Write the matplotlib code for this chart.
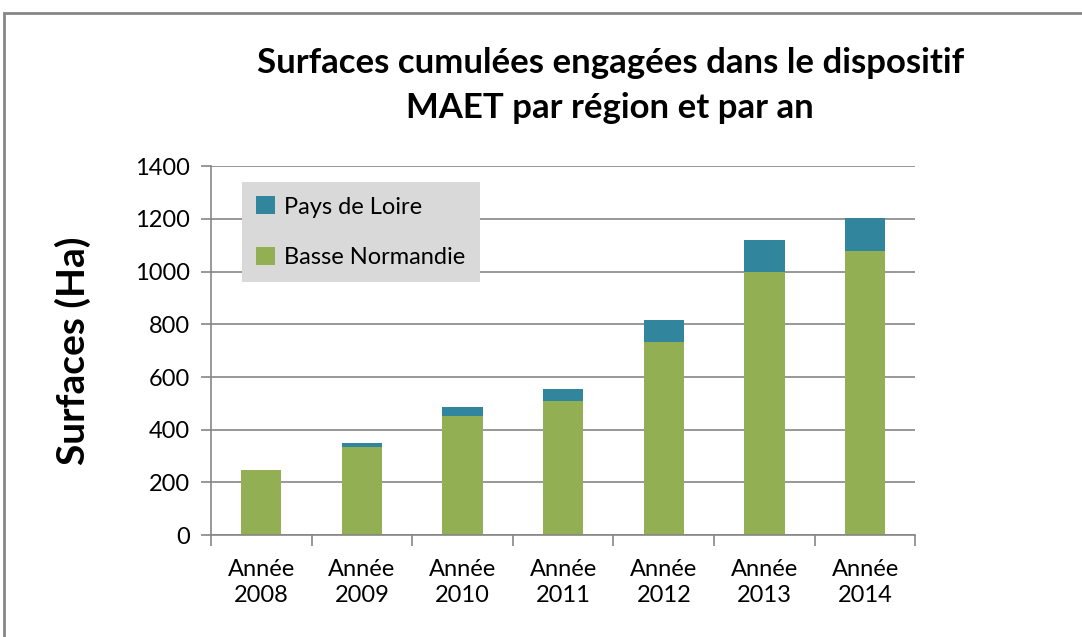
import matplotlib.pyplot as plt
from matplotlib.patches import Rectangle
import numpy as np

plt.rcParams['font.family'] = ['Lato', 'DejaVu Sans']

annees = ["Année\n2008", "Année\n2009", "Année\n2010", "Année\n2011",
          "Année\n2012", "Année\n2013", "Année\n2014"]
basse_normandie = [246, 334, 451, 508, 732, 999, 1077]
pays_de_loire = [0, 15, 35, 46, 84, 120, 126]

vert = "#92af54"
bleu = "#31859c"
gris = "#868686"

fig = plt.figure(figsize=(10.82, 6.37), dpi=100)
ax = fig.add_axes([0.195, 0.160, 0.651, 0.579])

x = np.arange(len(annees))
b1 = ax.bar(x, basse_normandie, width=0.4, color=vert, zorder=2)
b2 = ax.bar(x, pays_de_loire, width=0.4, bottom=basse_normandie, color=bleu, zorder=2)

ax.set_xlim(-0.5, len(annees) - 0.5)
ax.set_ylim(0, 1400)
ax.set_yticks(range(0, 1401, 200))
ax.yaxis.grid(True, color=gris, linewidth=1.2, zorder=0)
ax.set_axisbelow(True)

ax.set_xticks(x)
ax.set_xticklabels(annees, fontsize=17, linespacing=1.3)
ax.set_xticks(np.arange(-0.5, len(annees)), minor=True)
ax.tick_params(axis='x', which='major', length=0, pad=17)
ax.tick_params(axis='x', which='minor', length=8, color=gris, width=1.2)
ax.tick_params(axis='y', length=7, color=gris, width=1.2, labelsize=17, pad=8)

for s in ['top', 'right']:
    ax.spines[s].set_visible(False)
for s in ['left', 'bottom']:
    ax.spines[s].set_color(gris)
    ax.spines[s].set_linewidth(1.2)

ax.set_ylabel("Surfaces (Ha)", fontsize=28, fontweight='bold', labelpad=32)

fig.text(0.564, 0.866, "Surfaces cumulées engagées dans le dispositif\nMAET par région et par an",
         ha='center', va='center', fontsize=25, fontweight='bold', linespacing=1.5)

leg = ax.legend([b2, b1], ["Pays de Loire", "Basse Normandie"], loc='upper left',
                bbox_to_anchor=(0.044, 0.957), fontsize=17, frameon=True,
                fancybox=False, handlelength=0.8, handleheight=0.8,
                handletextpad=0.4, labelspacing=1.25, borderpad=0.6, borderaxespad=0)
leg.get_frame().set_facecolor("#d9d9d9")
leg.get_frame().set_edgecolor("none")
leg.get_frame().set_alpha(1)

fig.patches.append(Rectangle((4 / 1082, -0.1), 1.2, 1.1 - 13 / 637, transform=fig.transFigure,
                             fill=False, edgecolor=gris, linewidth=2))

fig.savefig("out.png", dpi=100)
